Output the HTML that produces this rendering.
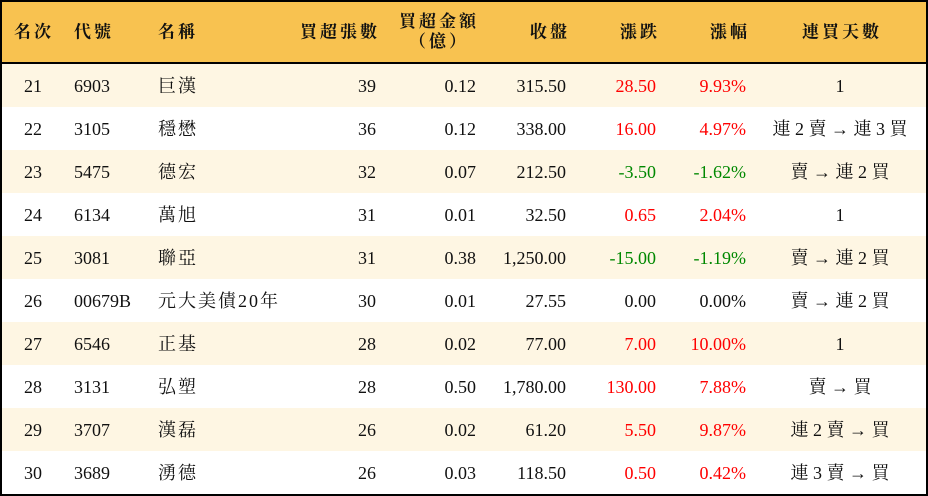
<!DOCTYPE html>
<html><head><meta charset="utf-8"><style>
*{margin:0;padding:0;box-sizing:border-box}
body{width:928px;height:496px;overflow:hidden;background:#fff;font-family:"Liberation Serif","Noto Serif CJK SC",serif;font-size:18px;color:#111}
#t{position:absolute;left:0;top:0;width:928px;height:496px;border:2px solid #000;overflow:hidden}
.hd{position:absolute;left:0;top:0;width:924px;height:62px;background:#f8c250;border-bottom:2px solid #000}
.r{position:absolute;left:0;width:924px;height:43px}
.c{position:absolute;top:50%;transform:translateY(-50%);white-space:nowrap;line-height:1}
.red{color:#f00}.grn{color:#080}
.h{letter-spacing:3px;font-weight:bold;font-size:17px}
</style></head><body><div id="t">
<div class="hd">
<span class="c h" style="left:12px">名次</span>
<span class="c h" style="left:72px">代號</span>
<span class="c h" style="left:156px">名稱</span>
<span class="c h" style="right:546px">買超張數</span>
<span class="c h" style="left:397px;top:30px;text-align:center;line-height:20px">買超金額<br>（億）</span>
<span class="c h" style="right:356px">收盤</span>
<span class="c h" style="right:266px">漲跌</span>
<span class="c h" style="right:176px">漲幅</span>
<span class="c h" style="left:800px">連買天數</span>
</div>
<div id="rows"></div>
</div>
<script>
var d=[["21","6903","巨漢","39","0.12","315.50","28.50","9.93%","1",1],
["22","3105","穩懋","36","0.12","338.00","16.00","4.97%","連 2 賣 → 連 3 買",1],
["23","5475","德宏","32","0.07","212.50","-3.50","-1.62%","賣 → 連 2 買",-1],
["24","6134","萬旭","31","0.01","32.50","0.65","2.04%","1",1],
["25","3081","聯亞","31","0.38","1,250.00","-15.00","-1.19%","賣 → 連 2 買",-1],
["26","00679B","元大美債20年","30","0.01","27.55","0.00","0.00%","賣 → 連 2 買",0],
["27","6546","正基","28","0.02","77.00","7.00","10.00%","1",1],
["28","3131","弘塑","28","0.50","1,780.00","130.00","7.88%","賣 → 買",1],
["29","3707","漢磊","26","0.02","61.20","5.50","9.87%","連 2 賣 → 買",1],
["30","3689","湧德","26","0.03","118.50","0.50","0.42%","連 3 賣 → 買",1]];
var h="";
d.forEach(function(r,i){var cl=r[9]>0?"red":r[9]<0?"grn":"";
h+='<div class="r" style="top:'+(62+i*43)+'px;background:'+(i%2==0?'#fef6e3':'#fff')+'">'+
'<span class="c" style="left:31px;transform:translate(-50%,-50%)">'+r[0]+'</span>'+
'<span class="c" style="left:72px">'+r[1]+'</span>'+
'<span class="c" style="left:156px;letter-spacing:2px">'+r[2]+'</span>'+
'<span class="c" style="right:550px">'+r[3]+'</span>'+
'<span class="c" style="right:450px">'+r[4]+'</span>'+
'<span class="c" style="right:360px">'+r[5]+'</span>'+
'<span class="c '+cl+'" style="right:270px">'+r[6]+'</span>'+
'<span class="c '+cl+'" style="right:180px">'+r[7]+'</span>'+
'<span class="c" style="left:838px;transform:translate(-50%,-50%)">'+r[8]+'</span></div>';});
document.getElementById("rows").innerHTML=h;
</script>
</body></html>
